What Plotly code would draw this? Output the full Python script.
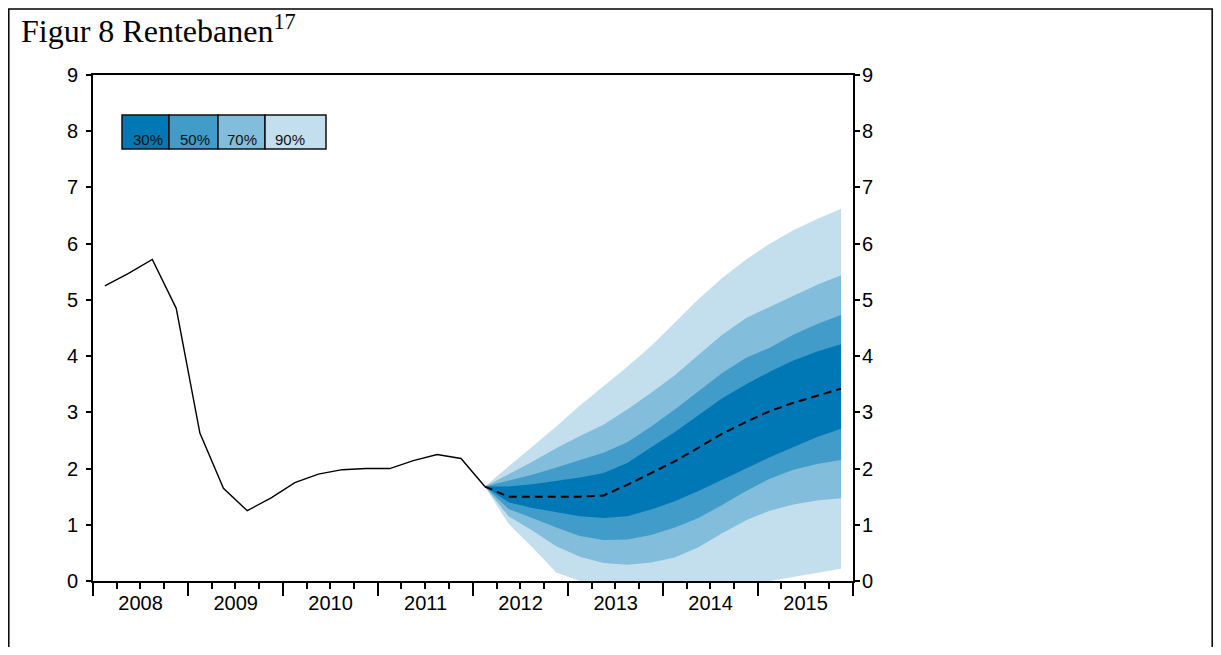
import pandas as pd
import plotly.graph_objects as go

# ---------------- data ----------------
title_main = "Figur 8 Rentebanen"
title_note = "17"

hist_quarters = ["2008Q1", "2008Q2", "2008Q3", "2008Q4",
                 "2009Q1", "2009Q2", "2009Q3", "2009Q4",
                 "2010Q1", "2010Q2", "2010Q3", "2010Q4",
                 "2011Q1", "2011Q2", "2011Q3", "2011Q4",
                 "2012Q1"]
hist_rate = [5.25, 5.47, 5.72, 4.85,
             2.63, 1.65, 1.25, 1.48,
             1.75, 1.90, 1.98, 2.00,
             2.00, 2.14, 2.25, 2.18,
             1.68]

fan_quarters = ["2012Q1", "2012Q2", "2012Q3", "2012Q4",
                "2013Q1", "2013Q2", "2013Q3", "2013Q4",
                "2014Q1", "2014Q2", "2014Q3", "2014Q4",
                "2015Q1", "2015Q2", "2015Q3", "2015Q4"]
median_path = [1.68, 1.50, 1.50, 1.50, 1.50, 1.52, 1.71, 1.92,
               2.13, 2.37, 2.62, 2.83, 3.02, 3.17, 3.30, 3.42]

band30_hi = [1.68, 1.68, 1.72, 1.78, 1.84, 1.92, 2.10, 2.38,
             2.65, 2.95, 3.25, 3.50, 3.72, 3.92, 4.08, 4.21]
band30_lo = [1.68, 1.40, 1.30, 1.22, 1.15, 1.12, 1.15, 1.27,
             1.42, 1.60, 1.80, 2.00, 2.20, 2.38, 2.56, 2.71]
band50_hi = [1.68, 1.79, 1.89, 2.02, 2.15, 2.28, 2.47, 2.75,
             3.05, 3.38, 3.70, 3.97, 4.15, 4.38, 4.57, 4.73]
band50_lo = [1.68, 1.28, 1.12, 0.95, 0.80, 0.73, 0.74, 0.82,
             0.95, 1.12, 1.35, 1.60, 1.82, 1.98, 2.08, 2.15]
band70_hi = [1.68, 1.90, 2.12, 2.36, 2.58, 2.78, 3.05, 3.35,
             3.66, 4.02, 4.38, 4.68, 4.88, 5.08, 5.27, 5.44]
band70_lo = [1.68, 1.15, 0.90, 0.62, 0.43, 0.32, 0.29, 0.33,
             0.42, 0.60, 0.85, 1.08, 1.25, 1.36, 1.43, 1.47]
band90_hi = [1.68, 2.03, 2.38, 2.75, 3.12, 3.46, 3.81, 4.18,
             4.60, 5.01, 5.39, 5.72, 6.00, 6.24, 6.44, 6.62]
band90_lo = [1.68, 1.02, 0.60, 0.15, 0.00, 0.00, 0.00, 0.00,
             0.00, 0.00, 0.00, 0.00, 0.00, 0.08, 0.15, 0.22]

legend_labels = ["30%", "50%", "70%", "90%"]
band_colors = ["#0078B6", "#419CC9", "#82BDDB", "#C3DFEE"]

y_ticks = [0, 1, 2, 3, 4, 5, 6, 7, 8, 9]
x_start, x_end = "2008-01-01", "2016-01-01"

# ---------------- helpers ----------------
def mid_quarter(q):
    p = pd.Period(q, freq="Q")
    return p.start_time + (p.end_time - p.start_time) / 2

hist_x = [mid_quarter(q) for q in hist_quarters]
fan_x = [mid_quarter(q) for q in fan_quarters]

OFF = 8  # page body margin offset
W, H = 1221 - 2 * OFF, 655 - 2 * OFF
L, R, T, B = 93 - OFF, 853 - OFF, 75 - OFF, 581 - OFF


def fx(px):
    return (px - OFF - L) / (R - L)


def fy(py):
    return (B - (py - OFF)) / (B - T)


fig = go.Figure()

bands = [
    (band_colors[3], band90_hi, band90_lo),
    (band_colors[2], band70_hi, band70_lo),
    (band_colors[1], band50_hi, band50_lo),
    (band_colors[0], band30_hi, band30_lo),
]
for color, hi, lo in bands:
    fig.add_trace(go.Scatter(
        x=fan_x + fan_x[::-1], y=hi + lo[::-1],
        mode="lines", fill="toself", fillcolor=color,
        line=dict(width=0, color=color), hoverinfo="skip", showlegend=False))

fig.add_trace(go.Scatter(x=hist_x, y=hist_rate, mode="lines",
                         line=dict(color="black", width=1.4), showlegend=False))
fig.add_trace(go.Scatter(x=fan_x, y=median_path, mode="lines", yaxis="y2",
                         line=dict(color="black", width=2, dash="8px,5px"),
                         showlegend=False))

tick_font = dict(family="Liberation Sans, Arial, sans-serif", size=20, color="black")

fig.update_layout(
    width=W, height=H,
    margin=dict(l=L, r=W - R, t=T, b=H - B, autoexpand=False),
    paper_bgcolor="white", plot_bgcolor="white",
    showlegend=False,
    xaxis=dict(
        type="date", range=[x_start, x_end],
        tick0=x_start, dtick="M12", ticklabelmode="period", tickformat="%Y",
        ticks="outside", ticklen=13, tickwidth=1.5, tickcolor="black",
        minor=dict(dtick="M3", ticks="outside", ticklen=6, tickwidth=1.5,
                   tickcolor="black", showgrid=False),
        showline=True, linecolor="black", linewidth=2, mirror=True,
        showgrid=False, zeroline=False, tickfont=tick_font,
        ticklabelstandoff=-10,
    ),
    yaxis=dict(
        range=[0, 9], tickvals=y_ticks,
        ticks="outside", ticklen=5, tickwidth=1.5, tickcolor="black",
        showline=True, linecolor="black", linewidth=2,
        showgrid=False, zeroline=False, tickfont=tick_font,
        ticklabelstandoff=4,
    ),
    yaxis2=dict(
        range=[0, 9], tickvals=y_ticks, overlaying="y", side="right",
        ticks="outside", ticklen=5, tickwidth=1.5, tickcolor="black",
        showline=True, linecolor="black", linewidth=2,
        showgrid=False, zeroline=False, tickfont=tick_font,
        ticklabelstandoff=-2,
    ),
)

shapes = [dict(type="rect", xref="paper", yref="paper",
               x0=fx(8.8), x1=fx(1212.2), y0=fy(720), y1=fy(9),
               line=dict(color="black", width=1.5), fillcolor="rgba(0,0,0,0)",
               layer="above")]

cell_edges = [122, 169, 218, 265, 326]
text_centers = [148, 195, 242, 290]
annotations = [dict(xref="paper", yref="paper", x=fx(19), y=fy(29),
                    xanchor="left", yanchor="middle", showarrow=False,
                    text=f"{title_main}<sup>{title_note}</sup>",
                    font=dict(family="Liberation Serif, Times New Roman, serif",
                              size=32, color="black"))]
for i, lab in enumerate(legend_labels):
    shapes.append(dict(type="rect", xref="paper", yref="paper",
                       x0=fx(cell_edges[i]), x1=fx(cell_edges[i + 1]),
                       y0=fy(149), y1=fy(115),
                       fillcolor=band_colors[i],
                       line=dict(color="#111111", width=1.5)))
    annotations.append(dict(xref="paper", yref="paper", x=fx(text_centers[i]),
                            y=fy(139), xanchor="center", yanchor="middle",
                            showarrow=False, text=lab,
                            font=dict(family="Liberation Sans, Arial, sans-serif",
                                      size=15, color="#111111")))

fig.update_layout(shapes=shapes, annotations=annotations)

fig.write_html("out.html")
